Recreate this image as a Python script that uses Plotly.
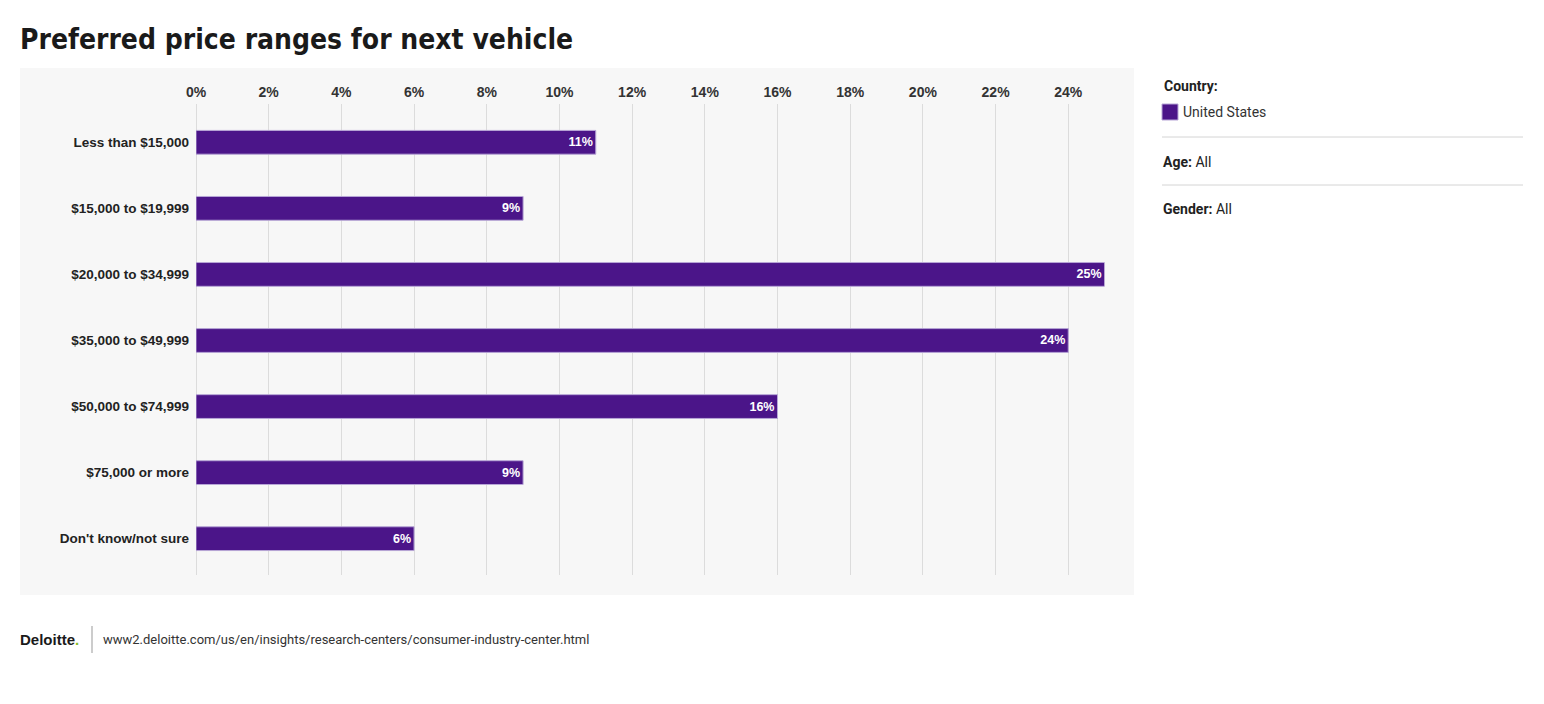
import plotly.graph_objects as go

categories = ["Less than $15,000", "$15,000 to $19,999", "$20,000 to $34,999",
              "$35,000 to $49,999", "$50,000 to $74,999", "$75,000 or more",
              "Don't know/not sure"]
values = [11, 9, 25, 24, 16, 9, 6]
labels = ["11%", "9%", "25%", "24%", "16%", "9%", "6%"]
series_name = "United States"
x_ticks = list(range(0, 25, 2))
x_tick_text = [f"{v}%" for v in x_ticks]

W, H = 1544, 704
def px(x):
    return x / W
def py(y):
    return 1 - y / H

BAR = "#4b1589"

fig = go.Figure()
fig.add_trace(go.Bar(
    y=categories, x=values, orientation="h", name=series_name,
    marker=dict(color=BAR, line=dict(color="#b7a6d6", width=1)),
    text=labels, textposition="inside", insidetextanchor="end",
    textfont=dict(family="Liberation Sans", size=12.5, color="white", weight="bold"),
    width=0.36, showlegend=False, hoverinfo="skip",
))

fig.update_layout(
    width=W, height=H,
    margin=dict(l=0, r=0, t=0, b=0, autoexpand=False),
    paper_bgcolor="white", plot_bgcolor="rgba(0,0,0,0)",
    font=dict(family="Liberation Sans", color="#333"),
    showlegend=False,
    xaxis=dict(domain=[px(196), px(1104.6)], range=[0, 25], side="top",
               tickvals=x_ticks, ticktext=x_tick_text,
               tickfont=dict(family="Liberation Sans", size=14, color="#333", weight="bold"),
               showgrid=True, gridcolor="#dcdcdc", gridwidth=1,
               zeroline=True, zerolinecolor="#dcdcdc", zerolinewidth=1,
               showline=False, ticks="", ticklabelstandoff=3,
               automargin=False, fixedrange=True),
    yaxis=dict(domain=[py(575), py(104)], range=[6.55, -0.58],
               tickfont=dict(family="Liberation Sans", size=13.5, color="#222", weight="bold"),
               showgrid=False, zeroline=False, showline=False, ticks="",
               ticklabelstandoff=6, automargin=False, fixedrange=True),
    shapes=[
        dict(type="rect", xref="paper", yref="paper", x0=px(20), x1=px(1134),
             y0=py(595), y1=py(68), fillcolor="#f7f7f7", line=dict(width=0), layer="below"),
        dict(type="rect", xref="paper", yref="paper", x0=px(1162), x1=px(1178),
             y0=py(120), y1=py(104), fillcolor=BAR, line=dict(color="#b7a6d6", width=1)),
        dict(type="line", xref="paper", yref="paper", x0=px(1162), x1=px(1523),
             y0=py(137), y1=py(137), line=dict(color="#d4d4d4", width=1)),
        dict(type="line", xref="paper", yref="paper", x0=px(1162), x1=px(1523),
             y0=py(185), y1=py(185), line=dict(color="#d4d4d4", width=1)),
        dict(type="line", xref="paper", yref="paper", x0=px(92), x1=px(92),
             y0=py(626), y1=py(653), line=dict(color="#999", width=1)),
    ],
    annotations=[
        dict(text="<b>Preferred price ranges for next vehicle</b>", xref="paper", yref="paper",
             x=px(18), y=py(39), xanchor="left", yanchor="middle", showarrow=False,
             font=dict(family="DejaVu Sans Condensed", size=28, color="#1a1a1a")),
        dict(text="<b>Country:</b>", xref="paper", yref="paper",
             x=px(1162), y=py(86), xanchor="left", yanchor="middle", showarrow=False,
             font=dict(family="Roboto", size=14, color="#222")),
        dict(text=series_name, xref="paper", yref="paper",
             x=px(1181), y=py(112), xanchor="left", yanchor="middle", showarrow=False,
             font=dict(family="Roboto", size=14, color="#333")),
        dict(text="<b>Age:</b> All", xref="paper", yref="paper",
             x=px(1161), y=py(162), xanchor="left", yanchor="middle", showarrow=False,
             font=dict(family="Roboto", size=14, color="#222")),
        dict(text="<b>Gender:</b> All", xref="paper", yref="paper",
             x=px(1161), y=py(209), xanchor="left", yanchor="middle", showarrow=False,
             font=dict(family="Roboto", size=14, color="#222")),
        dict(text="<b>Deloitte</b>", xref="paper", yref="paper",
             x=px(18), y=py(639), xanchor="left", yanchor="middle", showarrow=False,
             font=dict(family="Liberation Sans", size=15, color="#1a1a1a")),
        dict(text="<b>.</b>", xref="paper", yref="paper",
             x=px(73), y=py(639), xanchor="left", yanchor="middle", showarrow=False,
             font=dict(family="Liberation Sans", size=15, color="#86bc25")),
        dict(text="www2.deloitte.com/us/en/insights/research-centers/consumer-industry-center.html",
             xref="paper", yref="paper",
             x=px(101), y=py(639), xanchor="left", yanchor="middle", showarrow=False,
             font=dict(family="Roboto", size=13, color="#333")),
    ],
)

fig.write_html("out.html")
